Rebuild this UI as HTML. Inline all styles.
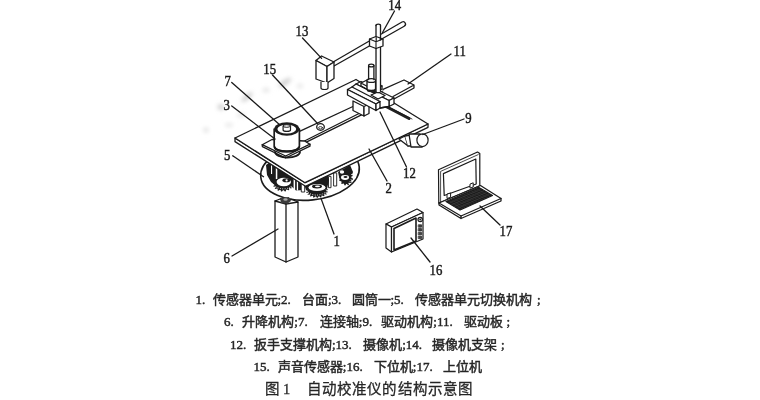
<!DOCTYPE html>
<html lang="zh-CN">
<head>
<meta charset="utf-8">
<style>
html,body{margin:0;padding:0;background:#fff;width:760px;height:400px;overflow:hidden}
#fig{position:absolute;left:0;top:0}
.ln{position:absolute;will-change:transform;filter:blur(0.3px);left:0;width:760px;height:18px;font-family:"Liberation Serif",serif;font-size:13px;line-height:18px;color:#262626;white-space:nowrap;-webkit-text-stroke:0.45px #262626}
.ln span{position:absolute;top:0}
.ln b{font-weight:normal;font-family:"Liberation Serif",serif}
.lbl{font-family:"Liberation Serif",serif;font-size:14.2px;fill:#1a1a1a;stroke:#1a1a1a;stroke-width:0.45}
</style>
</head>
<body>
<svg id="fig" width="760" height="400" viewBox="0 0 760 400">
<defs>
<filter id="soft" x="-5%" y="-5%" width="110%" height="110%"><feGaussianBlur stdDeviation="0.35"/></filter>
<filter id="blur2" x="-50%" y="-50%" width="200%" height="200%"><feGaussianBlur stdDeviation="2.2"/></filter>
</defs>
<!-- watermark smudges -->
<g filter="url(#blur2)" fill="#d2d2d2">
<ellipse cx="221" cy="107" rx="3.5" ry="3"/>
<ellipse cx="247" cy="97" rx="7" ry="2.6" transform="rotate(-40 247 97)"/>
<ellipse cx="285" cy="82.5" rx="7.5" ry="2.6" transform="rotate(-35 285 82.5)"/>
<ellipse cx="300" cy="86" rx="3" ry="2" fill="#e4e4e4"/>
<ellipse cx="266" cy="90" rx="3.5" ry="2" fill="#e2e2e2"/>
<ellipse cx="241" cy="115" rx="4" ry="2" fill="#e2e2e2"/>
<ellipse cx="206" cy="130" rx="2.5" ry="2.5" fill="#e0e0e0"/>
<ellipse cx="229" cy="125" rx="4" ry="1.8" fill="#e4e4e4"/>
</g>
<g stroke="#1a1a1a" stroke-width="1.3" fill="none" stroke-linejoin="round" stroke-linecap="round" filter="url(#soft)">

<!-- ===== Disk 5 + gears (under platform) ===== -->
<ellipse cx="310" cy="172" rx="49.5" ry="28" transform="rotate(-6 310 172)" fill="#fff" stroke-width="1.6"/>
<!-- left gear cluster -->
<path d="M266 165 L276 158 L306 178 L304 190 L296 190.5 L291 186 L276 186 L271 182 L267 175 Z" fill="#1c1c1c" stroke="none"/>
<path d="M293.0 185.2 L292.8 185.9 L290.8 186.2 L290.5 186.7 L291.8 187.8 L291.3 188.4 L289.3 188.1 L288.7 188.5 L289.3 189.9 L288.5 190.3 L286.8 189.5 L286.1 189.8 L285.9 191.2 L284.9 191.4 L283.8 190.2 L283.0 190.2 L282.0 191.5 L281.0 191.4 L280.6 190.0 L279.9 189.8 L278.3 190.7 L277.4 190.3 L277.8 188.9 L277.2 188.5 L275.3 188.9 L274.7 188.4 L275.8 187.2 L275.5 186.7 L273.4 186.5 L273.2 185.9 L274.9 185.0 L274.9 184.5 L273.0 183.8 L273.2 183.1 L275.2 182.8 L275.5 182.3 L274.2 181.2 L274.7 180.6 L276.7 180.9 L277.3 180.5 L276.7 179.1 L277.5 178.7 L279.2 179.5 L279.9 179.2 L280.1 177.8 L281.1 177.6 L282.2 178.8 L283.0 178.8 L284.0 177.5 L285.0 177.6 L285.4 179.0 L286.1 179.2 L287.7 178.3 L288.6 178.7 L288.2 180.1 L288.8 180.5 L290.7 180.1 L291.3 180.6 L290.2 181.8 L290.5 182.3 L292.6 182.5 L292.8 183.1 L291.1 184.0 L291.1 184.5 Z" fill="#1c1c1c" stroke="none"/>
<rect x="271" y="165" width="1.1" height="9" fill="#fff" stroke="none"/>
<ellipse cx="283.8" cy="182" rx="7.2" ry="4.2" fill="#fff" stroke="none"/>
<ellipse cx="286.4" cy="180.3" rx="4" ry="2" fill="#1c1c1c" stroke="none"/>
<circle cx="286.6" cy="180.4" r="1.1" fill="#fff" stroke="none"/>
<path d="M275.5 186.5 Q283 191 291 187" stroke="#fff" stroke-width="1" stroke-dasharray="0.9 1.5" stroke-linecap="butt"/>
<rect x="275.8" y="167" width="1.5" height="12" fill="#fff" stroke="none"/>
<rect x="293.6" y="177.5" width="1.5" height="12.5" fill="#fff" stroke="none"/>
<rect x="296.8" y="180" width="1.3" height="10.5" fill="#fff" stroke="none"/>
<rect x="301" y="183.5" width="1.5" height="8" fill="#fff" stroke="none"/>
<!-- middle gear -->
<path d="M304 184 L327 173 L329 180 L327 189 L306 190 Z" fill="#1c1c1c" stroke="none"/>
<path d="M327.9 191.7 L327.8 192.3 L325.6 192.5 L325.3 192.9 L326.9 194.0 L326.5 194.5 L324.2 194.2 L323.7 194.6 L324.7 195.9 L324.0 196.3 L322.0 195.5 L321.4 195.8 L321.5 197.2 L320.6 197.4 L319.2 196.3 L318.4 196.4 L317.8 197.8 L316.9 197.8 L316.1 196.5 L315.3 196.4 L314.0 197.5 L313.1 197.4 L313.1 196.0 L312.5 195.7 L310.6 196.5 L309.8 196.2 L310.6 194.8 L310.1 194.5 L307.9 194.8 L307.4 194.3 L308.9 193.3 L308.6 192.8 L306.3 192.7 L306.1 192.1 L308.1 191.4 L308.1 190.9 L306.1 190.3 L306.2 189.7 L308.4 189.5 L308.7 189.1 L307.1 188.0 L307.5 187.5 L309.8 187.8 L310.3 187.4 L309.3 186.1 L310.0 185.7 L312.0 186.5 L312.6 186.2 L312.5 184.8 L313.4 184.6 L314.8 185.7 L315.6 185.6 L316.2 184.2 L317.1 184.2 L317.9 185.5 L318.7 185.6 L320.0 184.5 L320.9 184.6 L320.9 186.0 L321.5 186.3 L323.4 185.5 L324.2 185.8 L323.4 187.2 L323.9 187.5 L326.1 187.2 L326.6 187.7 L325.1 188.7 L325.4 189.2 L327.7 189.3 L327.9 189.9 L325.9 190.6 L325.9 191.1 Z" fill="#1c1c1c" stroke="none"/>
<ellipse cx="317" cy="187.5" rx="8.5" ry="3.6" fill="#fff" stroke="none"/>
<ellipse cx="317" cy="186.5" rx="5" ry="1.9" fill="#1c1c1c" stroke="none"/>
<ellipse cx="317.5" cy="186.3" rx="2.6" ry="0.9" fill="#fff" stroke="none"/>
<path d="M308 192.5 Q317 198 326 192" stroke="#fff" stroke-width="1" stroke-dasharray="0.9 1.5" stroke-linecap="butt"/>
<rect x="301.7" y="183.4" width="3" height="8.6" fill="#fff" stroke-width="0.9"/>
<rect x="328.9" y="176.4" width="2.1" height="11.3" fill="#fff" stroke-width="0.9"/>
<rect x="334" y="172.9" width="2.7" height="13.1" fill="#fff" stroke-width="0.9"/>
<!-- right gear -->
<path d="M338 172 L350 165 L353 172 L350 180 L340 181 Z" fill="#1c1c1c" stroke="none"/>
<path d="M353.0 178.7 L352.8 179.7 L351.3 180.2 L351.0 180.9 L351.7 182.4 L351.1 183.1 L349.6 182.7 L349.0 183.2 L348.9 184.8 L348.0 185.2 L346.9 184.0 L346.2 184.1 L345.3 185.5 L344.4 185.3 L344.0 183.7 L343.3 183.4 L341.9 184.1 L341.2 183.5 L341.6 181.9 L341.2 181.2 L339.6 181.1 L339.3 180.2 L340.4 179.0 L340.3 178.2 L339.0 177.3 L339.2 176.3 L340.7 175.8 L341.0 175.1 L340.3 173.6 L340.9 172.9 L342.4 173.3 L343.0 172.8 L343.1 171.2 L344.0 170.8 L345.1 172.0 L345.8 171.9 L346.7 170.5 L347.6 170.7 L348.0 172.3 L348.7 172.6 L350.1 171.9 L350.8 172.5 L350.4 174.1 L350.8 174.8 L352.4 174.9 L352.7 175.8 L351.6 177.0 L351.7 177.8 Z" fill="#1c1c1c" stroke="none"/>
<ellipse cx="342" cy="172" rx="2.2" ry="1.8" fill="#fff" stroke="none"/>
<ellipse cx="345" cy="177.5" rx="4" ry="2.4" fill="#fff" stroke="none"/>
<ellipse cx="345.5" cy="177" rx="2" ry="1" fill="#1c1c1c" stroke="none"/>
<path d="M351.5 174 Q352.5 181 347 184.5" stroke="#fff" stroke-width="1" stroke-dasharray="0.9 1.5" stroke-linecap="butt"/>

<!-- ===== Post 6 ===== -->
<path d="M275 201 L286 204 L298 202 L298 257 L286 262 L275 257 Z" fill="#fff"/>
<path d="M275 201 L280 199 L292 199.5 L298 202" fill="none"/>
<path d="M280 198 L289 197 L291 201 L287 204 L281 203 Z" fill="#3a3a3a" stroke="none"/>
<ellipse cx="285.5" cy="199.5" rx="2.2" ry="1.2" fill="#aaa" stroke="none"/>
<path d="M286 204 L286 262"/>

<!-- ===== Platform 2 ===== -->
<path d="M235 138 L305 182.7 L428 124 L428 127.3 L305.5 186.3 L235 141.6 Z" fill="#fff"/>
<path d="M235 138 L356 79.5 L428 124 L305 182.7 Z" fill="#fff"/>
<!-- drive plate (strip) with dot 15 -->
<path d="M296 133.5 L354 106 L363 111.5 L304.5 141 L299 141 Z" fill="#fff" stroke="none"/>
<path d="M299 131.7 L354 106 M304.5 141 L363 111.5 M304.8 142.8 L364 113.7 L363 111.5"/>
<ellipse cx="320.5" cy="127" rx="3.8" ry="3.3" fill="#fff" stroke-width="1.3"/>
<ellipse cx="320.5" cy="127.8" rx="2" ry="1.2" stroke-width="0.8"/>
<!-- slot -->
<path d="M386 106.5 L409 118.5" stroke-width="3" stroke="#222"/>
<path d="M384 104.5 L412 119" stroke-width="0.8"/>

<!-- ===== Cylinder 3 with flange ===== -->
<path d="M275 152 A12.5 5.5 0 0 0 300 152" stroke-width="1.8"/>
<path d="M262.2 144.7 L272 139.5 L304.5 141 L310 144.2 L285.6 156 Z" fill="#fff"/>
<path d="M262.2 144.7 L262.4 146.6 L285.6 158 L310 146.2 L310 144.2"/>
<path d="M274.2 129 L274.2 146.5 A12.6 4.6 0 0 0 299.4 146.5 L299.4 129" fill="#fff" stroke-width="1.7"/>
<path d="M275 147.5 A11.8 4.2 0 0 0 298.6 147.5" stroke-width="2"/>
<ellipse cx="286.8" cy="129" rx="12.6" ry="6.8" fill="#1c1c1c" stroke="none"/>
<ellipse cx="286.8" cy="129.1" rx="9.4" ry="4.3" fill="#fff" stroke="none"/>
<path d="M283.1 126 L283.1 130 A3.7 1.4 0 0 0 290.5 130 L290.5 126" fill="#fff" stroke-width="1.2"/>
<ellipse cx="286.8" cy="126" rx="3.7" ry="1.3" fill="#fff" stroke-width="1"/>

<!-- ===== Motor 9 ===== -->
<path d="M399 139 L405 136 L408 146 Z" fill="#fff"/>
<path d="M405 136 L416 134 L416 146 L408 146" fill="#fff"/>
<path d="M409 134 L420 134 L422 147 L411 147 Z" fill="#fff"/>
<ellipse cx="422.5" cy="140.2" rx="5.6" ry="6.4" fill="#fff" stroke-width="1.2"/>

<!-- ===== Rail strip 11 ===== -->
<path d="M385 88.5 L404 80 L414 85 L414 88 L394 99 L393 96.5 Z" fill="#fff" stroke="none"/>
<path d="M383 89.4 L404 80 L414 85 L414 88 L394 99 M393 96.5 L414 85"/>

<!-- ===== Slider block ===== -->
<!-- lower carriage -->
<path d="M353 101 L364 106.5 L364 116 L353 110.5 Z" fill="#fff"/>
<path d="M364 106.5 L369 104 L369 113.5 L364 116 Z" fill="#fff"/>
<!-- back ridge -->
<path d="M356 84 L361 81.5 L394 98 L389 100.5 Z" fill="#fff"/>
<path d="M389 100.5 L394 98 L394 104 L389 106.5 Z" fill="#fff"/>
<!-- channel floor -->
<path d="M352 87 L356 84 L389 100.5 L389 106.5 L380 108 L352 93 Z" fill="#fff"/>
<!-- sensor mount block -->
<path d="M361 83 L369 79 L382 86 L374 90 Z" fill="#fff"/>
<path d="M361 83 L361 86 L374 93 L382 89 L382 86 M374 90 L374 93"/>
<path d="M371 95 L378 92 L385 95.5 L378 99 Z" fill="#fff"/>
<!-- front ridge -->
<path d="M347.5 89.5 L352 87 L380 101.5 L376 104 Z" fill="#fff"/>
<path d="M347.5 89.5 L376 104 L376 110.5 L347.5 95 Z" fill="#fff"/>
<path d="M376 104 L380 101.5 L380 108 L376 110.5 Z" fill="#fff"/>
<path d="M380 108 L389 106.5"/>

<!-- ===== Cylinder on slider (12 support) ===== -->
<ellipse cx="371.3" cy="90" rx="4.6" ry="2.2" fill="#222" stroke="none"/>
<path d="M367 80.5 L367 88.5 A4.3 1.9 0 0 0 375.6 88.5 L375.6 80.5" fill="#fff" stroke-width="1.4"/>
<ellipse cx="371.3" cy="80.5" rx="4.3" ry="1.9" fill="#fff"/>
<path d="M368.6 65.5 L368.6 79.5 M373.9 65.5 L373.9 79.5" stroke-width="1.3"/>
<ellipse cx="371.25" cy="65.5" rx="2.65" ry="1.4" fill="#fff"/>

<!-- ===== Arm ===== -->
<path d="M334 61.5 L402 22 A2.3 2.3 0 0 1 404.2 26.2 L334 66" fill="#fff" stroke-width="1.3"/>
<!-- ===== Vertical post 14 ===== -->
<rect x="376" y="25.5" width="4.5" height="66.5" fill="#fff" stroke="none"/>
<path d="M376 25.5 L376 92 M380.5 25.5 L380.5 91" stroke-width="1.3"/>
<path d="M376 25.5 A2.25 1.3 0 0 1 380.5 25.5" />
<path d="M374 91 L378 93 L383 91" stroke-width="1"/>
<!-- clamp -->
<path d="M369.5 39 L376 36.5 L383 39 L383 46 L376 48.5 L369.5 46 Z" fill="#fff" stroke-width="1.3"/>
<path d="M369.5 39 L376 41.8 L383 39 M376 41.8 L376 48.5" stroke-width="1.1"/>
<path d="M376.2 37.5 L376.2 40.8 M380.3 37.5 L380.3 40" stroke-width="1.2"/>

<!-- ===== Camera 13 ===== -->
<path d="M316 60.5 L321.5 56 L334 62 L327 66.5 Z" fill="#fff" stroke-width="1.3"/>
<path d="M316 60.5 L316 79 L327 83 L327 66.5 Z" fill="#fff" stroke-width="1.3"/>
<path d="M327 66.5 L334 62 L334 78.5 L327 83 Z" fill="#fff" stroke-width="1.3"/>
<path d="M321 82 L321 88 A3.5 1.5 0 0 0 328 88 L328 82" fill="#fff" stroke-width="1.2"/>

<!-- ===== Laptop 17 ===== -->
<path d="M438.5 169.8 L477.5 152 L479.8 153.6 L479.8 185.7 L438.8 203 Z" fill="#fff" stroke-width="1.2"/>
<path d="M440.6 202 L440.6 171.4 L478.2 154.6" stroke-width="0.8"/>
<path d="M443.4 173.6 L475.8 159 L476.2 184 L444.2 195.5 Z" fill="#fff" stroke-width="1.2"/>
<path d="M439 203 L480.5 185.5 L501 198.5 L461 216 Z" fill="#fff" stroke-width="1.2"/>
<path d="M439 203 L439 205 L461 218.5 L501 201 L501 198.5 M461 216 L461 218.5"/>
<path d="M446.0 201.5 L478.5 187.3 L492.5 195.5 L460 210 Z" fill="#1c1c1c" stroke-width="1.2"/>
<path d="M448.8 203.2 L481.3 188.9 M451.6 204.9 L484.1 190.6 M454.4 206.6 L486.9 192.2 M457.2 208.3 L489.7 193.9 M448.5 200.4 L462.5 208.9 M451.0 199.3 L465.0 207.8 M453.5 198.2 L467.5 206.7 M456.0 197.1 L470.0 205.5 M458.5 196.0 L472.5 204.4 M461.0 194.9 L475.0 203.3 M463.5 193.9 L477.5 202.2 M466.0 192.8 L480.0 201.1 M468.5 191.7 L482.5 200.0 M471.0 190.6 L485.0 198.8 M473.5 189.5 L487.5 197.7 M476.0 188.4 L490.0 196.6" stroke="#4a4a4a" stroke-width="0.4"/>
<path d="M447 194.5 L447 198.5 L450.6 197.3 L450.6 193.3 Z M470 184.5 L470 188.2 L473.2 187 L473.2 183.2 Z" fill="#fff" stroke-width="1"/>

<!-- ===== Controller 16 ===== -->
<path d="M386 224 L417 209 L423 212.5 L391.5 227 Z" fill="#fff" stroke-width="1.2"/>
<path d="M386 224 L386 248 L391.5 252 L391.5 227 Z" fill="#fff" stroke-width="1.2"/>
<path d="M391.5 227 L423 212.5 L423 239 L391.5 252 Z" fill="#fff" stroke-width="1.2"/>
<path d="M394 228.5 L416 218 L416 241 L394 250 Z" fill="#fff" stroke-width="1.6"/>
<circle cx="420.2" cy="219.5" r="2.2" fill="#fff" stroke-width="1.2"/>
<circle cx="420.2" cy="219.5" r="1" fill="#222" stroke="none"/>
<path d="M418.6 224.8 h3 v2.4 h-3 Z M418.6 228.6 h3 v2.4 h-3 Z M418.6 232.4 h3 v2.4 h-3 Z M418.6 236.2 h3 v2.4 h-3 Z" fill="#444" stroke-width="0.7"/>

<!-- ===== Leader lines ===== -->
<path d="M394.5 11 L382.5 32.5"/>
<path d="M302.5 38 L321.6 58.4"/>
<path d="M272.5 75 L317.5 123.5"/>
<path d="M231.75 82.5 L280 125"/>
<path d="M231.75 106 L275 139"/>
<path d="M232.75 155.75 L263.5 176.75"/>
<path d="M232 256 L278 229"/>
<path d="M334 234 L321 198.4"/>
<path d="M387 181 L369 149"/>
<path d="M406.5 167 L380 112"/>
<path d="M451 54 L408 84"/>
<path d="M464 119 L422.75 134.5"/>
<path d="M500 225 L480 206"/>
<path d="M430 262 L411 238"/>
</g>

<!-- labels -->
<g class="lbl" filter="url(#soft)">
<text transform="translate(388.35 10.00) scale(0.9 1)">14</text>
<text transform="translate(295.60 35.50) scale(0.9 1)">13</text>
<text transform="translate(263.35 74.00) scale(0.9 1)">15</text>
<text transform="translate(224.60 86.00) scale(0.9 1)">7</text>
<text transform="translate(223.60 110.00) scale(0.9 1)">3</text>
<text transform="translate(224.10 159.50) scale(0.9 1)">5</text>
<text transform="translate(223.60 263.00) scale(0.9 1)">6</text>
<text transform="translate(333.60 245.60) scale(0.9 1)">1</text>
<text transform="translate(385.60 193.00) scale(0.9 1)">2</text>
<text transform="translate(403.10 178.25) scale(0.9 1)">12</text>
<text transform="translate(453.60 55.80) scale(0.9 1)">11</text>
<text transform="translate(465.35 123.00) scale(0.9 1)">9</text>
<text transform="translate(499.60 236.00) scale(0.9 1)">17</text>
<text transform="translate(429.60 275.00) scale(0.9 1)">16</text>
</g>
</svg>

<div class="ln" style="top:291.2px">
<span style="left:195.5px"><b>1.</b></span><span style="left:212.5px">传感器单元<b>;2.</b></span><span style="left:302px">台面<b>;3.</b></span><span style="left:351.5px">圆筒一<b>;5.</b></span><span style="left:414.5px">传感器单元切换机构</span><span style="left:537px"><b>;</b></span>
</div>
<div class="ln" style="top:313.2px">
<span style="left:224px"><b>6.</b></span><span style="left:242.3px">升降机构<b>;7.</b></span><span style="left:319.8px">连接轴<b>;9.</b></span><span style="left:381.3px">驱动机构<b>;11.</b></span><span style="left:463.5px">驱动板</span><span style="left:506.5px"><b>;</b></span>
</div>
<div class="ln" style="top:336.2px">
<span style="left:230px"><b>12.</b></span><span style="left:254px">扳手支撑机构<b>;13.</b></span><span style="left:363.2px">摄像机<b>;14.</b></span><span style="left:432px">摄像机支架</span><span style="left:501px"><b>;</b></span>
</div>
<div class="ln" style="top:358.2px">
<span style="left:253.5px"><b>15.</b></span><span style="left:277.8px">声音传感器<b>;16.</b></span><span style="left:373.8px">下位机<b>;17.</b></span><span style="left:442.5px">上位机</span>
</div>
<div class="ln" style="top:380px;font-size:14.5px;-webkit-text-stroke:0.28px #262626">
<span style="left:265px">图</span><span style="left:283px"><b>1</b></span><span style="left:306.5px;letter-spacing:1.2px">自动校准仪的结构示意图</span>
</div>
</body>
</html>
